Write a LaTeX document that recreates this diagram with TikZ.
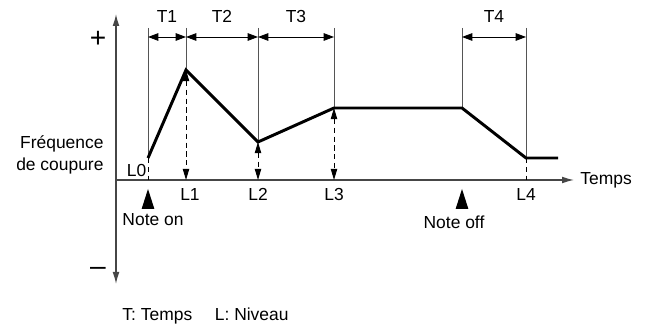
\documentclass[tikz,border=0pt]{standalone}
\usepackage{fontspec}
\setmainfont{Liberation Sans}
\usepackage{tikz}
\usetikzlibrary{arrows.meta, positioning, calc}
\definecolor{guide}{RGB}{85,85,85}
\definecolor{axisgray}{RGB}{70,70,70}

\begin{document}
\begin{tikzpicture}[
  lbl/.style={font=\fontsize{12.4}{15.5}\selectfont, inner sep=1pt},
  sign/.style={font=\fontsize{20}{22}\selectfont, inner sep=0pt},
  axisline/.style={-{Latex[length=0.3cm, width=0.17cm]}, line width=0.9pt, color=axisgray},
  guideline/.style={line width=0.6pt, color=guide},
  envline/.style={line width=2.1pt, line join=miter},
  dimarr/.style={{Triangle[length=0.26cm, width=0.19cm]}-{Triangle[length=0.26cm, width=0.19cm]}, line width=0.6pt},
  levarr/.style={{Triangle[length=0.28cm, width=0.16cm]}-{Triangle[length=0.28cm, width=0.16cm]}, line width=0.7pt, dash pattern=on 0.13cm off 0.09cm},
  levline/.style={line width=0.7pt, dash pattern=on 0.13cm off 0.09cm},
]
  \useasboundingbox (-2.9,-3.65) rectangle (13.325,4.5);

  % Axes
  \coordinate (o) at (0,0);
  \coordinate (ytop) at (0,4.15);
  \coordinate (ybot) at (0,-2.6);
  \coordinate (xend) at (11.45,0);
  \draw[axisline] (o) -- (ytop);
  \draw[axisline] (o) -- (ybot);
  \draw[axisline] (o) -- (xend);
  \node[sign] (plus) at (-0.45,3.525) {+};
  \node[sign] (minus) at (-0.45,-2.275) {\textendash};
  \node[lbl, anchor=east, align=right] (freq) at (-0.27,0.625) {Fréquence\\de coupure};
  \node[lbl, anchor=west] (temps) at ($(xend)+(0.12,0)$) {Temps};

  % Envelope points
  \coordinate (l0) at (0.8,0.55);
  \coordinate (l1) at (1.75,2.75);
  \coordinate (l2) at (3.55,0.95);
  \coordinate (l3) at (5.45,1.8);
  \coordinate (s) at (8.65,1.8);
  \coordinate (l4) at (10.25,0.55);
  \coordinate (e) at (11.05,0.55);

  % Guide lines and axis feet
  \foreach \p in {l0,l1,l2,l3,s,l4} {
    \coordinate (\p t) at (\p |- 0,3.8);
    \coordinate (\p b) at (\p |- o);
    \draw[guideline] (\p t) -- (\p);
  }

  % Time spans
  \foreach \a/\b/\t in {l0/l1/T1, l1/l2/T2, l2/l3/T3, s/l4/T4} {
    \draw[dimarr] (\a |- 0,3.575) -- (\b |- 0,3.575);
    \node[lbl] (\t) at ($(\a t)!0.5!(\b t) + (0,0.28)$) {\t};
  }

  % Envelope
  \draw[envline] (l0) -- (l1) -- (l2) -- (l3) -- (s) -- (l4) -- (e);

  % Levels
  \draw[levline] (l0) -- (l0b);
  \draw[levline] (l4) -- (l4b);
  \foreach \p in {l1,l2,l3} {
    \draw[levarr] (\p) -- (\p b);
  }
  \node[lbl, anchor=east] (L0) at (0.8,0.225) {L0};
  \node[lbl] (L1) at ($(l1b)+(0.1,-0.36)$) {L1};
  \foreach \p/\t in {l2/L2, l3/L3, l4/L4} {
    \node[lbl] (\t) at ($(\p b)+(0,-0.36)$) {\t};
  }

  % Note on / off
  \coordinate (non) at (0.8,-0.225);
  \coordinate (noff) at (8.65,-0.225);
  \foreach \p in {non,noff} {
    \fill (\p) -- ++(-0.16,-0.5) -- ++(0.32,0) -- cycle;
  }
  \node[lbl] (noteon) at (0.925,-1.0) {Note on};
  \node[lbl] (noteoff) at (8.45,-1.05) {Note off};

  % Legend
  \node[lbl, anchor=west] (legend) at (0.12,-3.4) {T: Temps\hspace{1.3em}L: Niveau};
\end{tikzpicture}
\end{document}
